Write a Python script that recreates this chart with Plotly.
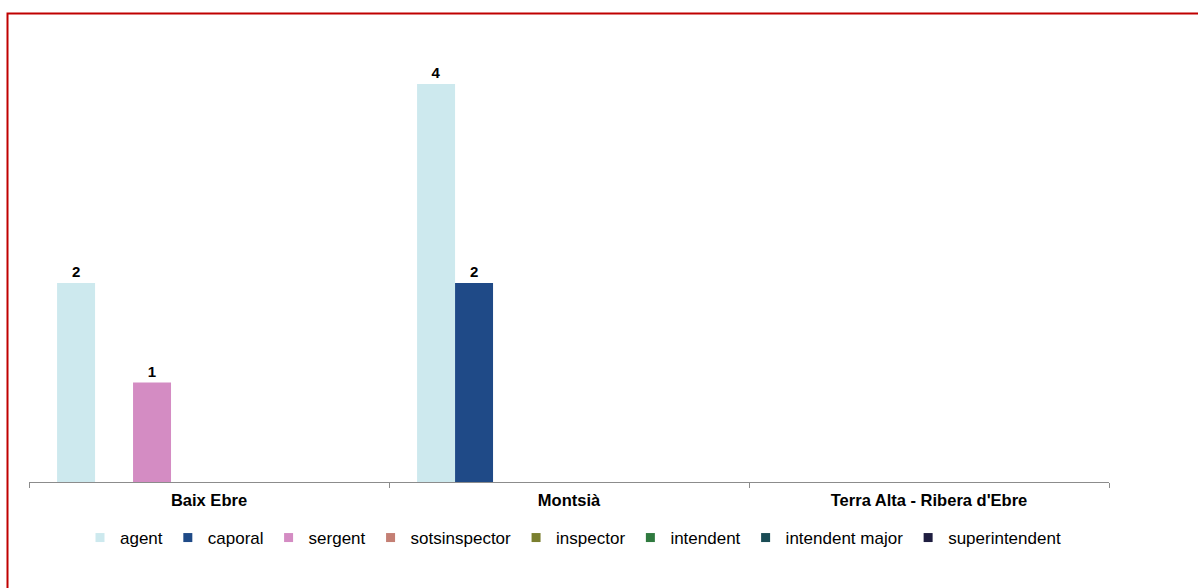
import plotly.graph_objects as go

categories = ["Baix Ebre", "Montsià", "Terra Alta - Ribera d'Ebre"]
series_names = ["agent", "caporal", "sergent", "sotsinspector", "inspector",
                "intendent", "intendent major", "superintendent"]
agent = [2, 4, 0]
caporal = [0, 2, 0]
sergent = [1, 0, 0]
sotsinspector = [0, 0, 0]
inspector = [0, 0, 0]
intendent = [0, 0, 0]
intendent_major = [0, 0, 0]
superintendent = [0, 0, 0]
series_values = [agent, caporal, sergent, sotsinspector, inspector,
                 intendent, intendent_major, superintendent]
colors = ["#CDE9EE", "#1F4A87", "#D48CC3", "#C47F74", "#7A7F2F",
          "#2F7A3F", "#1A4C55", "#1F1E40"]

fig = go.Figure()
for name, vals, col in zip(series_names, series_values, colors):
    fig.add_trace(go.Bar(
        name=name, x=categories, y=vals, legendgroup=name, showlegend=False,
        marker=dict(color=col, line=dict(width=0)),
        text=[str(v) if v else "" for v in vals],
        textposition="outside",
        textfont=dict(family="Liberation Sans, Arial", size=15, color="black", weight="bold"),
        cliponaxis=False,
    ))
# legend entries with small square keys
for name, col in zip(series_names, colors):
    fig.add_trace(go.Scatter(
        name=name, x=[None], y=[None], mode="markers", legendgroup=name,
        marker=dict(symbol="square", size=9, color=col, line=dict(width=0)),
        hoverinfo="skip",
    ))

W, H = 1198, 588
L, R, T, B = 29, 89, 40, 106
pw, ph = W - L - R, H - T - B

def px2x(px):
    return (px - L) / pw

def py2y(py):
    return (H - B - py) / ph

fig.update_layout(
    width=W, height=H,
    margin=dict(l=L, r=R, t=T, b=B),
    paper_bgcolor="white", plot_bgcolor="white",
    barmode="group", bargap=0.156, bargroupgap=0,
    font=dict(family="Liberation Sans, Arial", size=13, color="black"),
    showlegend=True,
    legend=dict(orientation="h", x=px2x(573), xanchor="center", y=py2y(538), yanchor="middle",
                font=dict(size=17), itemwidth=30, traceorder="normal", itemclick=False,
                bgcolor="rgba(0,0,0,0)"),
    xaxis=dict(showline=True, linecolor="#8C8C8C", linewidth=1, ticks="outside",
               tickson="boundaries", ticklen=5, tickcolor="#8C8C8C",
               tickfont=dict(size=16.5, weight="bold"), ticklabelstandoff=3,
               showgrid=False, zeroline=False),
    yaxis=dict(range=[0, 442 / 99.5], visible=False, showgrid=False, zeroline=False),
    shapes=[dict(type="rect", xref="paper", yref="paper",
                 x0=px2x(7.5), x1=px2x(1215), y0=py2y(600), y1=py2y(13.5),
                 line=dict(color="#C00000", width=2), fillcolor="rgba(0,0,0,0)", layer="above")],
)

fig.write_html("out.html", post_script="document.body.style.margin='0px';",
               config={"displayModeBar": False})
